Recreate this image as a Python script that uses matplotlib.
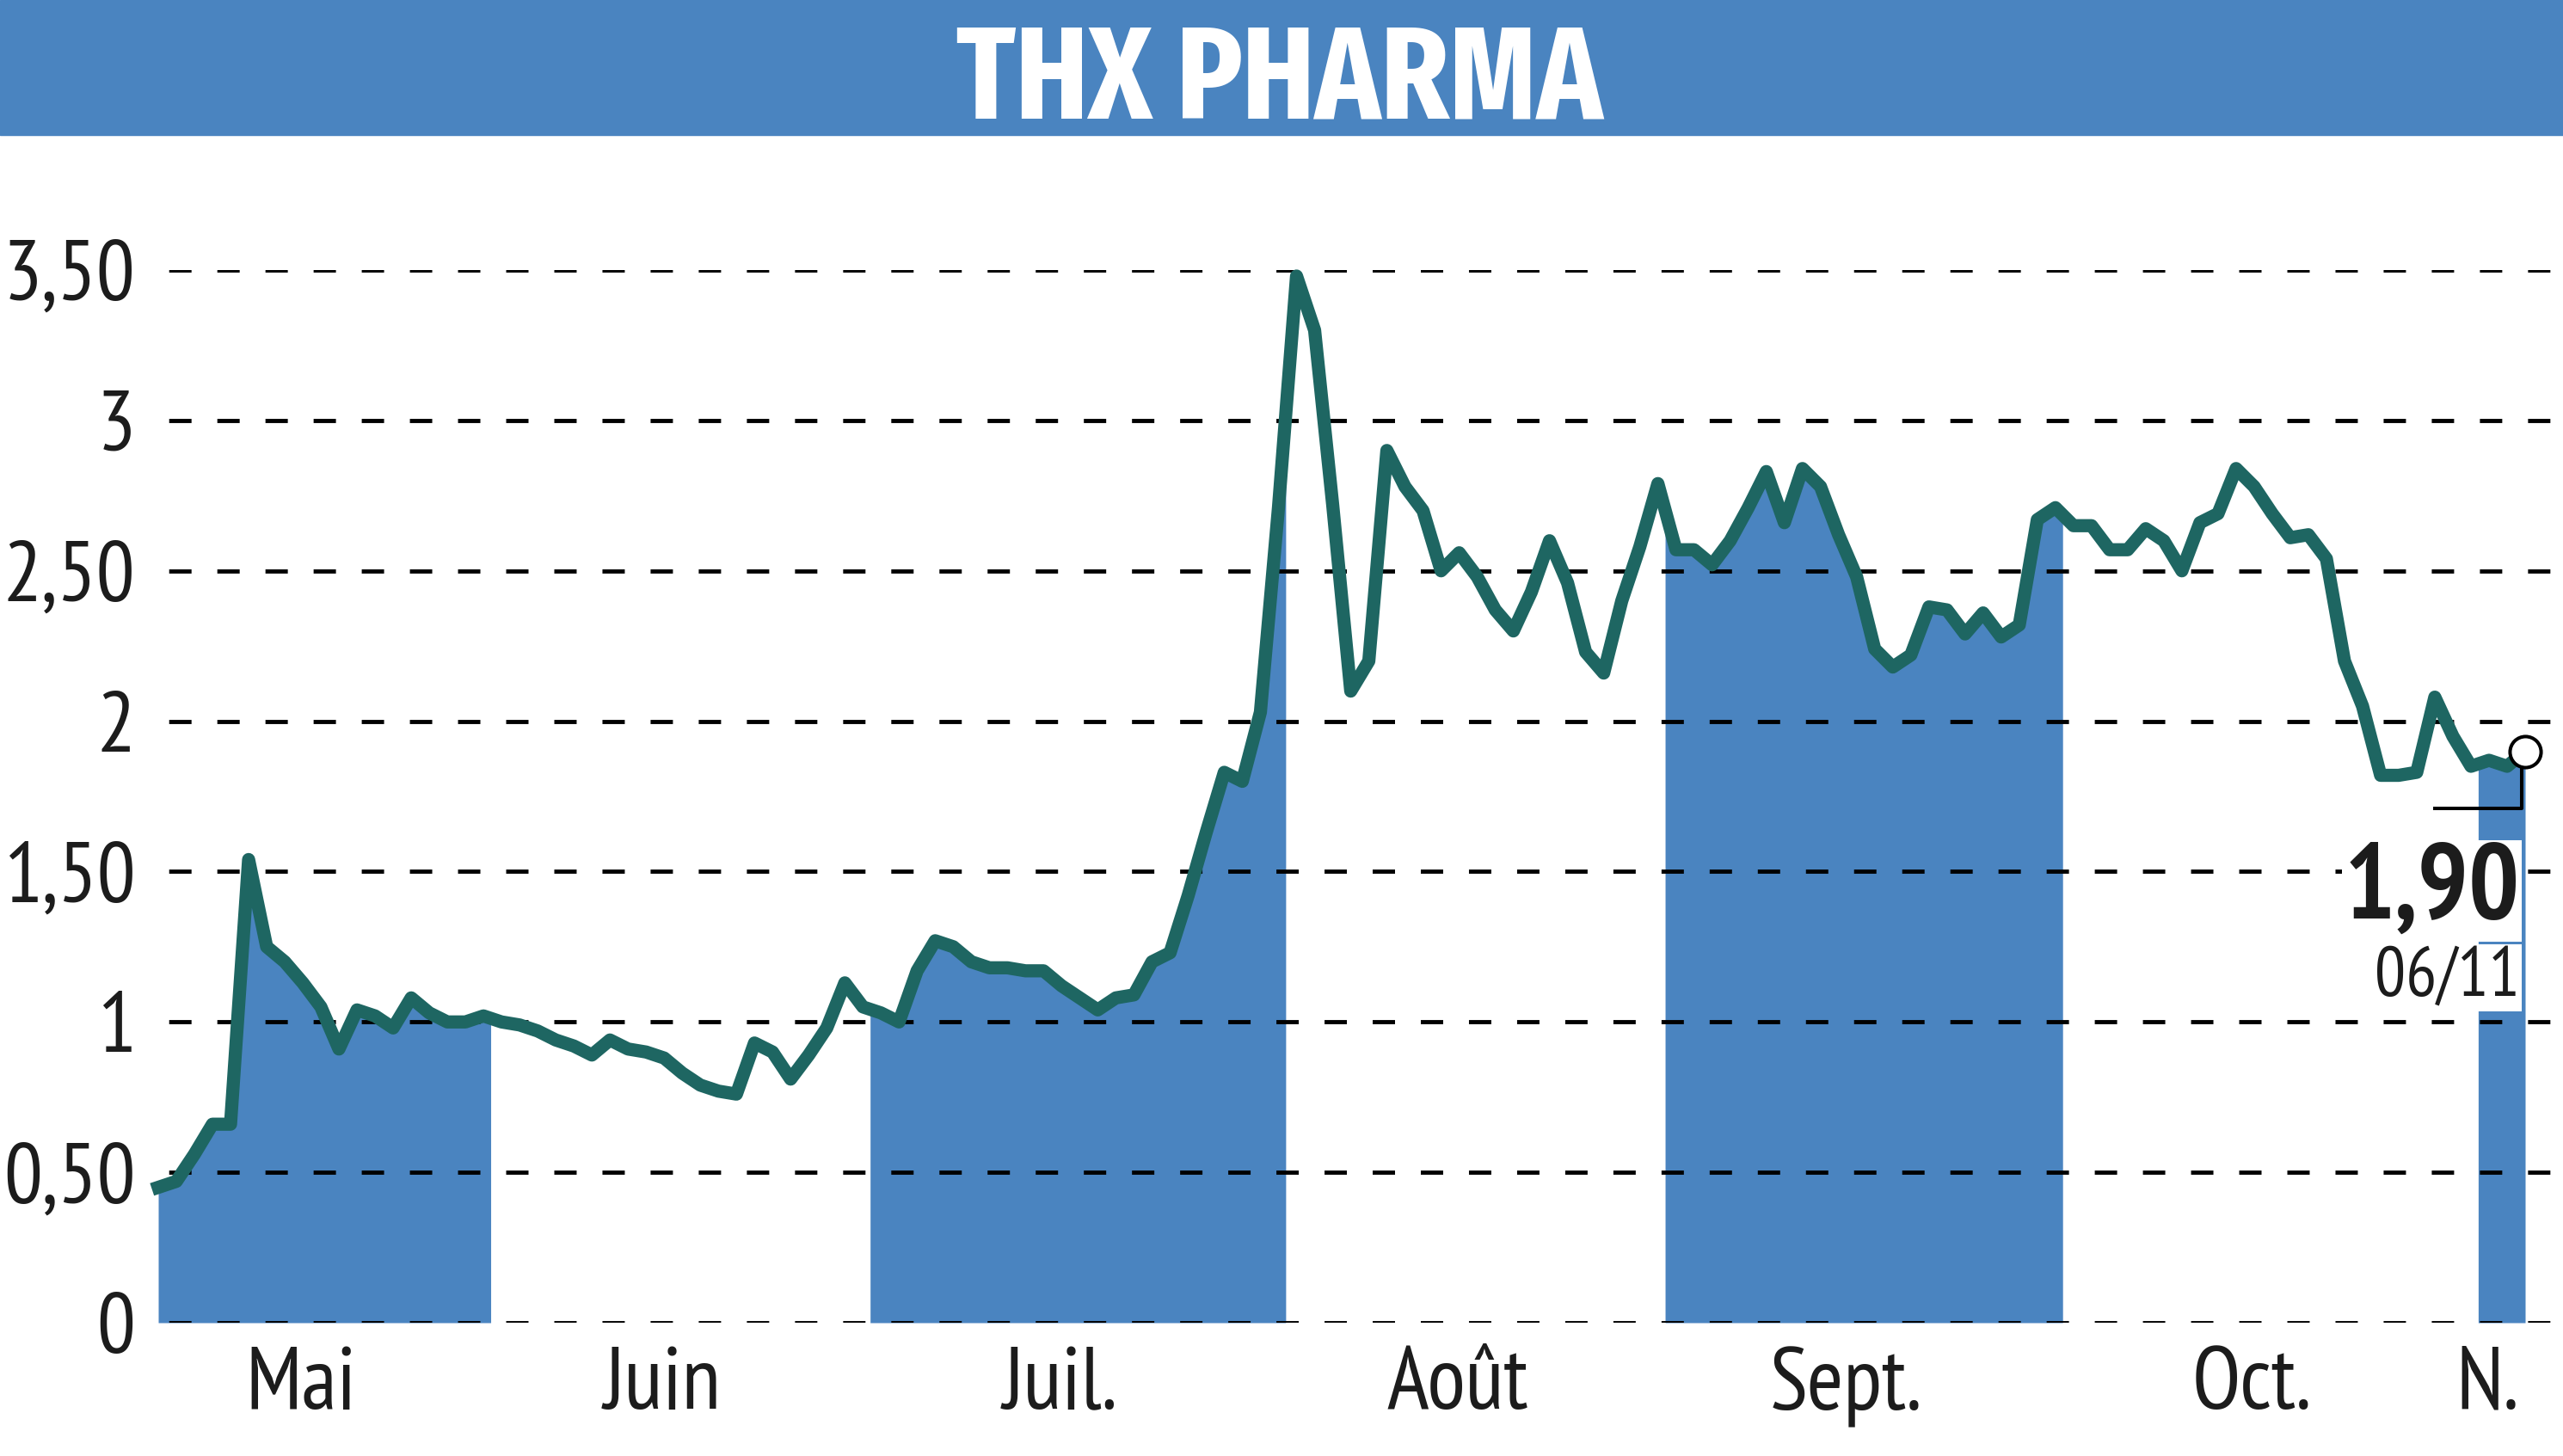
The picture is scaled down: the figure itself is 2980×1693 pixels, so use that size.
import numpy as np
import matplotlib.pyplot as plt
from matplotlib.patches import Rectangle

# cours de clôture journaliers, mois par mois
mai = [0.45, 0.47, 0.56, 0.66, 0.66, 1.54, 1.25, 1.20, 1.13, 1.05, 0.91, 1.04,
       1.02, 0.98, 1.08, 1.03, 1.00, 1.00, 1.02]
juin = [1.00, 0.99, 0.97, 0.94, 0.92, 0.89, 0.94, 0.91, 0.90, 0.88, 0.83, 0.79,
        0.77, 0.76, 0.93, 0.90, 0.81, 0.89, 0.98, 1.13, 1.05]
juil = [1.03, 1.00, 1.17, 1.27, 1.25, 1.20, 1.18, 1.18, 1.17, 1.17, 1.12, 1.08,
        1.04, 1.08, 1.09, 1.20, 1.23, 1.42, 1.63, 1.83, 1.80, 2.03, 2.71]
aout = [3.48, 3.30, 2.72, 2.10, 2.20, 2.90, 2.78, 2.70, 2.50, 2.56, 2.48, 2.37,
        2.30, 2.43, 2.60, 2.46, 2.23, 2.16, 2.40, 2.58, 2.79]
sept = [2.57, 2.57, 2.52, 2.60, 2.71, 2.83, 2.66, 2.84, 2.78, 2.62, 2.48, 2.24,
        2.18, 2.22, 2.38, 2.37, 2.29, 2.36, 2.28, 2.32, 2.67, 2.71]
octo = [2.65, 2.65, 2.57, 2.57, 2.64, 2.60, 2.50, 2.66, 2.69, 2.84, 2.78, 2.69,
        2.61, 2.62, 2.54, 2.20, 2.05, 1.82, 1.82, 1.83, 2.08, 1.95, 1.85]
nov = [1.87, 1.85, 1.90]

mois = ['Mai', 'Juin', 'Juil.', 'Août', 'Sept.', 'Oct.', 'N.']
series = [mai, juin, juil, aout, sept, octo, nov]
mois_remplis = ['Mai', 'Juil.', 'Sept.', 'N.']

y_ticks = [0, 0.5, 1, 1.5, 2, 2.5, 3, 3.5]
y_labels = ['0', '0,50', '1', '1,50', '2', '2,50', '3', '3,50']

titre = 'THX PHARMA'
dernier_cours = '1,90'
derniere_date = '06/11'

BLEU = '#4a84c0'
VERT = '#1e6662'
NOIR = '#1c1c1c'

# polices étroites (repli sur DejaVu)
ETROIT = ['PT Sans Narrow', 'DejaVu Sans']
TITRE_FONT = ['Fira Sans Extra Condensed', 'DejaVu Sans']

prix = np.concatenate(series)
idx = np.arange(len(prix))
n = len(prix)

# bornes de chaque mois en indices
debuts = np.cumsum([0] + [len(s) for s in series[:-1]])
fins = debuts + np.array([len(s) for s in series]) - 1

W, H = 2980, 1693
fig = plt.figure(figsize=(W / 100, H / 100), dpi=100)

# bandeau de titre
fig.patches.append(Rectangle((0, 1 - 157 / H), 1, 157 / H, transform=fig.transFigure,
                             color=BLEU, zorder=0))
fig.text(1488 / W, 1 - 137 / H, titre, ha='center', va='baseline', color='white',
         fontsize=110, fontweight='bold', family=TITRE_FONT)

# zone du graphique
x0, x1 = 184, 2936
y0, y1 = 1538, 314
ax = fig.add_axes([x0 / W, 1 - y0 / H, (W - x0) / W, (y0 - y1) / H])
px_par_jour = (x1 - x0) / (n - 1)
ax.set_xlim(0, (W - x0) / px_par_jour)
ax.set_ylim(0, 3.5)
for s in ax.spines.values():
    s.set_visible(False)

# remplissage des mois alternés
for m, d, f in zip(mois, debuts, fins):
    if m not in mois_remplis:
        continue
    a = max(d - 0.6, 0)
    b = min(f + 0.4, n - 1)
    xs = np.linspace(a, b, 300)
    ax.fill_between(xs, 0, np.interp(xs, idx, prix), color=BLEU, lw=0, zorder=1)

# grille pointillée
lw_grille = 3.5
for v in y_ticks:
    ax.axhline(v, color='black', lw=lw_grille, zorder=2,
               linestyle=(9, (18.7 / lw_grille, 21.6 / lw_grille)))

# courbe
ax.plot(idx, prix, color=VERT, lw=11, zorder=3, clip_on=False)

# dernier point
ax.plot([n - 6, n - 1.2, n - 1.2], [1.71, 1.71, prix[-1]], color='black', lw=2.9, zorder=4)
ax.plot(idx[-1], prix[-1], 'o', ms=26, mfc='white', mec='black', mew=2.9,
        zorder=5, clip_on=False)
ax.text(n - 1.3, 1.435, dernier_cours, ha='right', va='center', fontsize=89,
        fontweight='bold', family=ETROIT, color=NOIR, zorder=6,
        bbox=dict(facecolor='white', edgecolor='none', pad=2))
ax.text(n - 1.3, 1.147, derniere_date, ha='right', va='center', fontsize=58,
        family=ETROIT, color=NOIR, zorder=6,
        bbox=dict(facecolor='white', edgecolor='none', pad=2))

# axes
ax.set_yticks(y_ticks)
ax.set_yticklabels(y_labels, fontsize=72, family=ETROIT, color=NOIR)
pos_mois = (debuts + fins) / 2 - 1.1
ax.set_xticks(pos_mois)
ax.set_xticklabels(mois, fontsize=74, family=ETROIT, color=NOIR)
ax.tick_params(axis='y', length=0, pad=19)
ax.tick_params(axis='x', length=0, pad=20)

fig.savefig('out.png', dpi=100)
